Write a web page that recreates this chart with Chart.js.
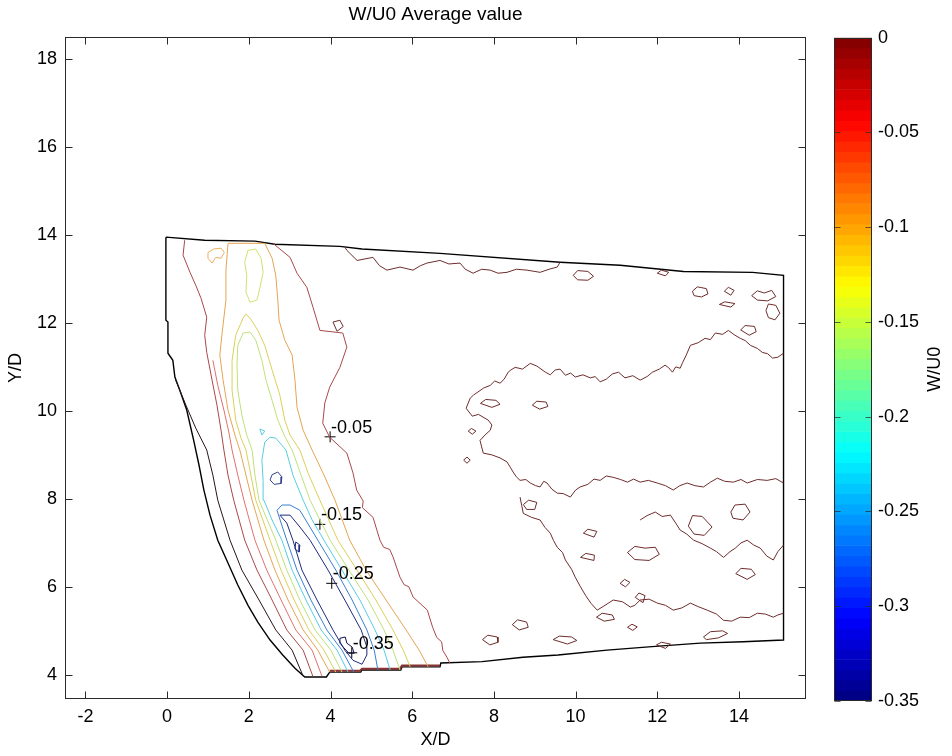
<!DOCTYPE html>
<html><head><meta charset="utf-8">
<script src="https://cdn.jsdelivr.net/npm/chart.js@4.4.0/dist/chart.umd.min.js"></script>
<style>
html,body{margin:0;padding:0;background:#fff;}
#wrap{position:relative;width:952px;height:756px;overflow:hidden;}
#main{position:absolute;left:0;top:0;}
#cbar{position:absolute;left:800px;top:0;}
</style></head><body>
<div id="wrap">
<canvas id="main" width="952" height="756"></canvas>
<canvas id="cbar" width="152" height="756"></canvas>
</div>
<script>
// ---------- axes ----------
const xTicks = [-2, 0, 2, 4, 6, 8, 10, 12, 14];
const yTicks = [4, 6, 8, 10, 12, 14, 16, 18];
const xRange = [-2.5, 15.64];
const yRange = [3.45, 18.5];
const cbarTicks = [0, -0.05, -0.1, -0.15, -0.2, -0.25, -0.3, -0.35];
const cbarRange = [-0.35, 0];

// ---------- contour labels ----------
const labelX = [3.99, 3.74, 4.03, 4.52];
const labelY = [9.41, 7.42, 6.08, 4.50];
const labelText = ['-0.05', '-0.15', '-0.25', '-0.35'];

// ---------- measurement domain outline ----------
const domain = [[-0.03,13.95],[0.92,13.88],[2.15,13.86],[2.64,13.79],[4.23,13.74],[4.77,13.68],[6.68,13.58],[9.62,13.38],[11.09,13.31],[12.64,13.17],[14.33,13.15],[15.09,13.08],
 [15.09,4.79],[14.10,4.75],[13.05,4.72],[11.87,4.64],[10.77,4.56],[9.57,4.45],[8.71,4.40],[7.71,4.30],[6.70,4.27],[6.68,4.18],[5.75,4.18],[5.72,4.11],[4.77,4.11],[4.74,4.06],[3.98,4.06],[3.90,3.95],[3.37,3.95],
 [3.13,4.15],[2.83,4.45],[2.52,4.79],[2.22,5.20],[1.98,5.58],[1.73,6.04],[1.49,6.54],[1.24,7.06],[1.05,7.63],[0.90,8.20],[0.78,8.77],[0.65,9.33],[0.48,10.02],[0.31,10.47],[0.19,10.77],[0.14,11.15],[0.02,11.31],[0.02,12.02],[-0.03,12.06],[-0.03,13.95]];

// ---------- band contours (W/U0 levels) ----------
const lev0Left = [[0.21,10.70],[0.46,10.13],[0.70,9.61],[0.97,9.11],[1.12,8.54],[1.24,7.97],[1.54,7.06],[1.83,6.38],[2.25,5.70],[2.66,5.02],[3.06,4.56],[3.33,3.97]];
const lev005Left = [[0.43,13.88],[0.39,13.54],[0.56,13.15],[0.70,12.86],[0.83,12.56],[0.97,12.13],[0.92,11.72],[0.97,11.33],[1.10,10.70],[1.22,10.13],[1.32,9.56],[1.39,9.11],[1.49,8.54],[1.63,7.97],[1.90,7.06],[2.20,6.38],[2.57,5.70],[2.93,5.02],[3.33,4.56],[3.57,3.96]];
const lev005Right = [[2.59,13.81],[3.01,13.49],[3.18,13.13],[3.42,12.81],[3.57,12.36],[3.74,11.83],[4.30,11.77],[4.40,11.45],[4.23,10.99],[3.98,10.54],[3.86,10.18],[3.81,9.72],[3.98,9.40],[4.40,9.04],[4.55,8.59],[4.64,8.20],[4.80,7.95],[4.78,7.80],[5.04,7.58],[5.21,7.06],[5.30,6.90],[5.45,6.85],[5.53,6.68],[5.70,6.22],[5.80,6.05],[5.92,6.00],[6.02,5.77],[6.37,5.47],[6.50,5.08],[6.60,4.85],[6.72,4.75],[6.75,4.55],[6.85,4.40],[6.92,4.27]];
const lev0075Left = [[1.12,11.15],[1.24,10.58],[1.39,10.02],[1.51,9.52],[1.59,9.11],[1.73,8.54],[1.88,7.97],[2.15,7.06],[2.44,6.38],[2.79,5.70],[3.15,5.02],[3.55,4.56],[3.79,3.97]];
const lev010 = [[3.98,4.06],[3.69,4.56],[3.33,5.02],[2.96,5.70],[2.64,6.38],[2.37,7.06],[2.08,7.97],[1.93,8.54],[1.78,9.11],[1.66,9.45],[1.49,10.02],[1.37,10.70],[1.29,11.27],[1.34,11.72],[1.44,12.52],[1.44,13.20],[1.49,13.81],
 [2.39,13.81],[2.57,13.47],[2.66,13.08],[2.71,12.52],[2.74,12.06],[2.88,11.61],[3.06,11.27],[3.13,10.70],[3.18,10.08],[3.33,9.56],[3.55,9.11],[3.84,8.54],[4.11,7.97],[4.47,7.06],[4.87,6.38],[5.36,5.70],[5.85,5.02],[6.17,4.56],[6.39,4.18]];
const lev010Blob = [[1.00,13.60],[1.14,13.68],[1.32,13.70],[1.40,13.60],[1.32,13.47],[1.19,13.49],[1.10,13.36],[1.00,13.47],[1.00,13.60]];
const lev0125 = [[4.13,4.06],[3.84,4.56],[3.47,5.02],[3.11,5.70],[2.79,6.38],[2.52,7.06],[2.17,7.97],[2.05,8.54],[1.93,9.11],[1.81,9.38],[1.68,9.79],[1.59,10.47],[1.59,11.15],[1.68,11.72],[1.86,12.11],[1.93,12.20],[2.03,12.11],[2.22,11.83],[2.39,11.49],[2.57,10.93],[2.76,10.36],[2.88,9.79],[3.01,9.45],[3.25,9.11],[3.47,8.54],[3.74,7.97],[4.18,7.06],[4.65,6.38],[5.11,5.70],[5.53,5.02],[5.78,4.56],[5.95,4.18]];
const lev015 = [[4.28,4.06],[4.01,4.56],[3.62,5.02],[3.25,5.70],[2.93,6.38],[2.66,7.06],[2.25,7.97],[2.15,8.54],[2.08,9.11],[1.95,9.45],[1.83,9.90],[1.73,10.47],[1.71,11.04],[1.73,11.49],[1.86,11.77],[2.03,11.79],[2.17,11.61],[2.32,11.15],[2.42,10.70],[2.57,10.24],[2.71,9.79],[2.88,9.42],[3.06,9.11],[3.28,8.54],[3.50,7.97],[3.99,7.06],[4.45,6.38],[4.92,5.70],[5.31,5.02],[5.53,4.56],[5.70,4.11]];
const lev015Top = [[1.98,13.65],[2.17,13.68],[2.30,13.47],[2.35,13.15],[2.27,12.79],[2.20,12.52],[2.03,12.47],[1.93,12.70],[1.95,13.08],[1.90,13.38],[1.98,13.65]];
const lev020 = [[4.43,4.06],[4.16,4.56],[3.77,5.02],[3.40,5.70],[3.06,6.38],[2.81,7.06],[2.57,7.52],[2.37,7.97],[2.35,8.42],[2.32,8.88],[2.39,9.29],[2.52,9.40],[2.66,9.38],[2.91,9.11],[3.08,8.54],[3.33,7.97],[3.55,7.52],[3.84,7.06],[4.28,6.38],[4.72,5.70],[5.09,5.02],[5.31,4.56],[5.46,4.11]];
const lev020Tri = [[2.27,9.59],[2.39,9.54],[2.32,9.45],[2.27,9.59]];
const lev025 = [[4.57,4.06],[4.28,4.56],[3.91,5.02],[3.52,5.70],[3.18,6.38],[2.93,7.06],[2.79,7.45],[2.69,7.74],[2.81,7.86],[3.01,7.86],[3.25,7.74],[3.69,7.06],[4.13,6.38],[4.53,5.70],[4.89,5.02],[5.07,4.56],[5.16,4.11]];
const lev025Loop = [[2.57,8.55],[2.71,8.61],[2.81,8.50],[2.79,8.35],[2.62,8.33],[2.52,8.43],[2.57,8.55]];
const lev030 = [[2.76,7.63],[2.93,7.45],[3.08,7.06],[3.30,6.38],[3.67,5.70],[4.06,5.02],[4.35,4.56],[4.55,4.33],[4.77,4.24],[4.89,4.45],[4.89,4.63],[4.75,5.02],[4.35,5.70],[3.94,6.38],[3.50,7.06],[3.25,7.36],[3.01,7.63],[2.76,7.63]];
const lev030Blob = [[3.15,7.02],[3.25,6.95],[3.23,6.79],[3.13,6.86],[3.15,7.02]];
const lev035 = [[4.23,4.83],[4.36,4.86],[4.40,4.72],[4.53,4.63],[4.58,4.49],[4.45,4.49],[4.33,4.61],[4.23,4.72],[4.23,4.83]];
const edgeBottom = [[3.98,4.09],[4.72,4.09],[4.77,4.14],[5.70,4.14],[5.75,4.21],[6.68,4.21]];

// ---------- near-zero noise contours (right part) ----------
const noiseTop = [[4.35,13.73],[4.40,13.65],[4.65,13.42],[5.04,13.49],[5.20,13.30],[5.38,13.20],[5.70,13.27],[6.02,13.20],[6.20,13.30],[6.36,13.36],[6.68,13.42],[6.90,13.34],[7.17,13.36],[7.30,13.22],[7.49,13.13],[7.70,13.22],[7.91,13.20],[8.10,13.13],[8.32,13.15],[8.55,13.22],[8.81,13.20],[9.13,13.15],[9.35,13.22],[9.55,13.27],[9.62,13.38]];
const noiseMid = [[15.09,11.31],[14.95,11.22],[14.82,11.20],[14.70,11.30],[14.57,11.33],[14.45,11.42],[14.28,11.49],[14.15,11.60],[14.03,11.65],[13.90,11.72],[13.74,11.83],[13.60,11.74],[13.42,11.77],[13.30,11.62],[13.17,11.65],[13.00,11.55],[12.81,11.49],[12.70,11.25],[12.62,11.10],[12.56,10.97],[12.45,11.00],[12.37,10.88],[12.28,10.98],[12.19,11.04],[12.05,10.95],[11.88,10.88],[11.75,10.78],[11.58,10.70],[11.40,10.80],[11.21,10.75],[11.05,10.88],[10.90,10.84],[10.75,10.72],[10.60,10.66],[10.48,10.78],[10.36,10.75],[10.18,10.82],[9.99,10.77],[9.88,10.86],[9.75,10.81],[9.62,10.95],[9.50,10.93],[9.38,10.82],[9.26,10.88],[9.05,11.02],[8.89,11.08],[8.70,10.95],[8.52,10.99],[8.40,10.92],[8.35,10.88],[8.25,10.72],[8.15,10.63],[8.02,10.68],[7.91,10.58],[7.75,10.52],[7.61,10.43],[7.50,10.36],[7.42,10.29],[7.32,10.06],[7.47,9.88],[7.62,9.92],[7.86,9.79],[7.95,9.68],[7.91,9.56],[7.78,9.45],[7.66,9.33],[7.70,9.18],[7.74,9.04],[7.95,9.00],[8.15,8.93],[8.32,8.84],[8.40,8.72],[8.47,8.61],[8.55,8.50],[8.64,8.42],[8.78,8.44],[8.89,8.36],[9.02,8.30],[9.13,8.27],[9.22,8.40],[9.30,8.36],[9.42,8.22],[9.55,8.13],[9.70,8.12],[9.87,8.04],[10.00,8.20],[10.11,8.27],[10.30,8.33],[10.45,8.45],[10.60,8.42],[10.75,8.52],[10.92,8.49],[11.10,8.44],[11.27,8.38],[11.42,8.45],[11.58,8.38],[11.78,8.42],[12.00,8.36],[12.20,8.30],[12.39,8.20],[12.55,8.30],[12.73,8.36],[12.92,8.30],[13.13,8.27],[13.30,8.38],[13.47,8.47],[13.65,8.40],[13.86,8.38],[14.05,8.44],[14.20,8.36],[14.45,8.44],[14.69,8.42],[14.90,8.46],[15.09,8.36]];
const noiseLow = [[15.09,5.40],[14.95,5.36],[14.84,5.31],[14.65,5.38],[14.45,5.40],[14.25,5.30],[14.03,5.31],[13.82,5.22],[13.62,5.24],[13.45,5.38],[13.22,5.47],[13.00,5.55],[12.81,5.63],[12.60,5.52],[12.39,5.47],[12.20,5.58],[12.00,5.63],[11.80,5.72],[11.58,5.70],[11.45,5.58],[11.34,5.54],[11.15,5.66],[10.92,5.70],[10.72,5.58],[10.53,5.47],[10.38,5.62],[10.24,5.81],[10.12,6.00],[9.99,6.22],[9.90,6.40],[9.75,6.61],[9.68,6.78],[9.55,6.90],[9.46,7.05],[9.38,7.22],[9.25,7.35],[9.13,7.52],[8.92,7.58],[8.72,7.67],[8.68,7.85],[8.64,8.04]];
const noiseInner = [[11.58,7.52],[11.75,7.62],[11.95,7.70],[12.12,7.60],[12.32,7.63],[12.45,7.45],[12.56,7.29],[12.72,7.20],[12.89,7.06],[13.10,6.98],[13.30,6.88],[13.45,6.80],[13.62,6.67],[13.78,6.80],[13.91,6.88],[14.05,7.00],[14.20,7.06],[14.36,6.95],[14.52,6.88],[14.68,6.70],[14.84,6.61],[14.95,6.80],[15.09,6.95]];
const noiseLoops = [
 [[9.94,13.08],[10.05,13.19],[10.30,13.17],[10.44,13.06],[10.30,12.97],[10.05,12.98],[9.94,13.08]],
 [[12.00,13.13],[12.10,13.20],[12.28,13.15],[12.20,13.07],[12.00,13.13]],
 [[12.86,12.72],[12.98,12.82],[13.20,12.78],[13.24,12.66],[13.08,12.59],[12.90,12.62],[12.86,12.72]],
 [[13.64,12.72],[13.74,12.81],[13.88,12.74],[13.80,12.63],[13.64,12.72]],
 [[14.31,12.62],[14.45,12.73],[14.62,12.68],[14.80,12.74],[14.90,12.60],[14.70,12.50],[14.45,12.52],[14.31,12.62]],
 [[14.66,12.28],[14.72,12.43],[14.90,12.40],[15.00,12.22],[14.88,12.07],[14.72,12.12],[14.66,12.28]],
 [[13.52,12.42],[13.65,12.48],[13.90,12.44],[13.80,12.36],[13.52,12.42]],
 [[14.04,11.84],[14.15,11.94],[14.38,11.92],[14.42,11.80],[14.25,11.72],[14.04,11.84]],
 [[7.67,10.17],[7.80,10.26],[8.05,10.24],[8.15,10.15],[7.95,10.08],[7.67,10.17]],
 [[8.94,10.13],[9.05,10.22],[9.28,10.20],[9.32,10.10],[9.12,10.04],[8.94,10.13]],
 [[7.37,9.54],[7.45,9.60],[7.56,9.54],[7.47,9.47],[7.37,9.54]],
 [[7.26,8.88],[7.34,8.95],[7.42,8.88],[7.34,8.81],[7.26,8.88]],
 [[8.72,7.87],[8.85,7.97],[9.05,7.92],[9.00,7.76],[8.80,7.76],[8.72,7.87]],
 [[10.19,7.22],[10.30,7.31],[10.52,7.26],[10.45,7.13],[10.19,7.22]],
 [[11.27,6.78],[11.45,6.92],[11.70,6.88],[11.95,6.90],[12.05,6.74],[11.80,6.60],[11.45,6.62],[11.27,6.78]],
 [[12.76,7.38],[12.86,7.62],[13.10,7.60],[13.20,7.50],[13.34,7.36],[13.15,7.17],[12.90,7.20],[12.76,7.38]],
 [[13.80,7.70],[13.90,7.86],[14.15,7.88],[14.27,7.70],[14.10,7.52],[13.85,7.56],[13.80,7.70]],
 [[13.92,6.30],[14.05,6.42],[14.30,6.40],[14.40,6.28],[14.20,6.17],[13.92,6.30]],
 [[10.12,6.67],[10.25,6.76],[10.46,6.72],[10.45,6.60],[10.12,6.67]],
 [[11.09,6.08],[11.20,6.17],[11.33,6.10],[11.22,6.00],[11.09,6.08]],
 [[11.46,5.76],[11.55,5.86],[11.70,5.80],[11.65,5.64],[11.46,5.76]],
 [[11.27,5.08],[11.38,5.15],[11.51,5.09],[11.40,5.01],[11.27,5.08]],
 [[11.98,4.68],[12.10,4.74],[12.32,4.70],[12.20,4.60],[11.98,4.68]],
 [[13.13,4.86],[13.30,4.98],[13.60,5.00],[13.72,4.94],[13.50,4.84],[13.20,4.80],[13.13,4.86]],
 [[10.51,5.31],[10.65,5.40],[10.90,5.36],[10.95,5.26],[10.70,5.22],[10.51,5.31]],
 [[8.45,5.14],[8.58,5.25],[8.80,5.20],[8.84,5.08],[8.62,5.02],[8.45,5.14]],
 [[7.72,4.80],[7.85,4.90],[8.08,4.86],[8.10,4.74],[7.90,4.68],[7.72,4.80]],
 [[9.45,4.80],[9.60,4.88],[9.90,4.86],[10.03,4.78],[9.80,4.70],[9.45,4.80]],
 [[4.06,12.02],[4.23,12.06],[4.31,11.92],[4.16,11.81],[4.06,12.02]]
];

// ---------- rendering ----------
const FONT = "'Liberation Sans', Arial, Helvetica, sans-serif";
const toXY = a => a.map(p => ({x: p[0], y: p[1]}));
const line = (a, color, w) => ({data: toXY(a), borderColor: color, backgroundColor: color, borderWidth: w || 1, showLine: true, pointRadius: 0, fill: false, tension: 0});

const datasets = [];
noiseLoops.forEach(l => datasets.push(line(l, '#6e2c2c')));
datasets.push(line(noiseTop, '#6e2c2c'));
datasets.push(line(noiseMid, '#6e2c2c'));
datasets.push(line(noiseLow, '#6e2c2c'));
datasets.push(line(noiseInner, '#6e2c2c'));
datasets.push(line(lev0Left, '#2a1414'));
datasets.push(line(lev005Left, '#a84848'));
datasets.push(line(lev005Right, '#a84848'));
datasets.push(line(lev0075Left, '#e07070'));
datasets.push(line(lev010, '#e6a452'));
datasets.push(line(lev010Blob, '#e8b060'));
datasets.push(line(lev0125, '#dccf58'));
datasets.push(line(lev015, '#bfe078'));
datasets.push(line(lev015Top, '#d2e070'));
datasets.push(line(lev020, '#58cce0'));
datasets.push(line(lev020Tri, '#58cce0'));
datasets.push(line(lev025, '#3a7ed0'));
datasets.push(line(lev025Loop, '#304090'));
datasets.push(line(lev030, '#1e2a80'));
datasets.push(line(lev030Blob, '#1e2a80'));
datasets.push(line(lev035, '#10104a'));
datasets.push(line(edgeBottom, '#8a3434', 2));
datasets.push(line(domain, '#000000', 1.4));
datasets.push({data: labelX.map((v, i) => ({x: v, y: labelY[i]})), showLine: false, pointStyle: 'cross', pointRadius: 5.5, borderColor: '#000', borderWidth: 1, backgroundColor: '#000'});

const framePlugin = {
  id: 'frame',
  afterDraw(chart) {
    const {ctx, chartArea: a} = chart;
    const xs = chart.scales.x, ys = chart.scales.y;
    ctx.save();
    ctx.strokeStyle = '#2a2a2a';
    ctx.lineWidth = 1;
    const L = Math.round(a.left) + 0.5, R = Math.round(a.right) - 0.5, T = Math.round(a.top) + 0.5, B = Math.round(a.bottom) - 0.5;
    ctx.strokeRect(L, T, R - L, B - T);
    ctx.beginPath();
    xTicks.forEach(v => {
      const p = Math.round(xs.getPixelForValue(v)) + 0.5;
      ctx.moveTo(p, B); ctx.lineTo(p, B - 7);
      ctx.moveTo(p, T); ctx.lineTo(p, T + 7);
    });
    yTicks.forEach(v => {
      const p = Math.round(ys.getPixelForValue(v)) + 0.5;
      ctx.moveTo(L, p); ctx.lineTo(L + 7, p);
      ctx.moveTo(R, p); ctx.lineTo(R - 7, p);
    });
    ctx.stroke();
    ctx.restore();
  },
  afterDatasetsDraw(chart) {
    const {ctx} = chart;
    const xs = chart.scales.x, ys = chart.scales.y;
    ctx.save();
    ctx.fillStyle = '#000';
    ctx.font = '18px ' + FONT;
    ctx.textAlign = 'left';
    ctx.textBaseline = 'alphabetic';
    labelText.forEach((t, i) => {
      ctx.fillText(t, xs.getPixelForValue(labelX[i]) + 1, ys.getPixelForValue(labelY[i]) - 4);
    });
    ctx.restore();
  }
};

new Chart(document.getElementById('main'), {
  type: 'scatter',
  data: {datasets},
  options: {
    responsive: false, animation: false, events: [],
    layout: {padding: {left: 0, right: 146, top: 0, bottom: 0}},
    plugins: {
      legend: {display: false}, tooltip: {enabled: false},
      title: {display: true, fullSize: false, text: 'W/U0 Average value', color: '#000',
        font: {family: FONT, size: 19, weight: 'normal'}, padding: {top: 3, bottom: 11.2}}
    },
    scales: {
      x: {type: 'linear', min: xRange[0], max: xRange[1],
        afterBuildTicks: s => { s.ticks = xTicks.map(v => ({value: v})); },
        afterFit: s => { s.height = 57; },
        grid: {display: false, drawTicks: false}, border: {display: false},
        ticks: {color: '#000', font: {family: FONT, size: 18}, padding: 7, maxRotation: 0, autoSkip: false, callback: v => String(v)},
        title: {display: true, text: 'X/D', color: '#000', font: {family: FONT, size: 18}, padding: {top: 0, bottom: 5}}},
      y: {type: 'linear', min: yRange[0], max: yRange[1],
        afterBuildTicks: s => { s.ticks = yTicks.map(v => ({value: v})); },
        afterFit: s => { s.width = 65; },
        grid: {display: false, drawTicks: false}, border: {display: false},
        ticks: {color: '#000', font: {family: FONT, size: 18}, padding: 8, autoSkip: false, callback: v => String(v)},
        title: {display: true, text: 'Y/D', color: '#000', font: {family: FONT, size: 18}, padding: {top: 5, bottom: 0}}}
    }
  },
  plugins: [framePlugin]
});

// ---------- colorbar (jet colormap, 64 colours) ----------
const nColors = 64;
const clamp = v => Math.max(0, Math.min(1, v));
const jet = t => {
  const r = clamp(1.5 - Math.abs(4 * t - 3)), g = clamp(1.5 - Math.abs(4 * t - 2)), b = clamp(1.5 - Math.abs(4 * t - 1));
  return `rgb(${Math.round(r * 255)},${Math.round(g * 255)},${Math.round(b * 255)})`;
};
const step = (cbarRange[1] - cbarRange[0]) / nColors;
const cbarSets = [];
for (let i = 0; i < nColors; i++) {
  cbarSets.push({data: [-step], backgroundColor: jet(1 - (i + 0.5) / nColors), borderWidth: 0, barPercentage: 1, categoryPercentage: 1, stack: 'c'});
}
const cbarPlugin = {
  id: 'cbarframe',
  afterDraw(chart) {
    const {ctx, chartArea: a} = chart;
    const ys = chart.scales.y;
    ctx.save();
    ctx.strokeStyle = '#2a2a2a';
    ctx.lineWidth = 1;
    const L = Math.round(a.left) + 0.5, R = Math.round(a.right) - 0.5, T = Math.round(a.top) + 0.5, B = Math.round(a.bottom) - 0.5;
    ctx.strokeRect(L, T, R - L, B - T);
    ctx.strokeStyle = 'rgba(40,40,40,0.7)';
    ctx.beginPath();
    cbarTicks.forEach(v => {
      const p = Math.round(ys.getPixelForValue(v)) + 0.5;
      ctx.moveTo(L, p); ctx.lineTo(L + 6, p);
      ctx.moveTo(R, p); ctx.lineTo(R - 6, p);
    });
    ctx.stroke();
    ctx.fillStyle = '#000';
    ctx.font = '18px ' + FONT;
    ctx.textAlign = 'center';
    ctx.textBaseline = 'middle';
    ctx.translate(135, (a.top + a.bottom) / 2);
    ctx.rotate(-Math.PI / 2);
    ctx.fillText('W/U0', 0, 0);
    ctx.restore();
  }
};
new Chart(document.getElementById('cbar'), {
  type: 'bar',
  data: {labels: [''], datasets: cbarSets},
  options: {
    responsive: false, animation: false, events: [],
    layout: {padding: {left: 34, right: 0, top: 37.7, bottom: 55}},
    plugins: {legend: {display: false}, tooltip: {enabled: false}, title: {display: false}},
    scales: {
      x: {display: false, stacked: true},
      y: {position: 'right', stacked: true, min: cbarRange[0], max: cbarRange[1],
        afterBuildTicks: s => { s.ticks = cbarTicks.map(v => ({value: v})); },
        afterFit: s => { s.width = 80; },
        grid: {display: false, drawTicks: false}, border: {display: false},
        ticks: {color: '#000', font: {family: FONT, size: 18}, padding: 6, autoSkip: false, callback: v => String(v)}}
    }
  },
  plugins: [cbarPlugin]
});
</script>
</body></html>
